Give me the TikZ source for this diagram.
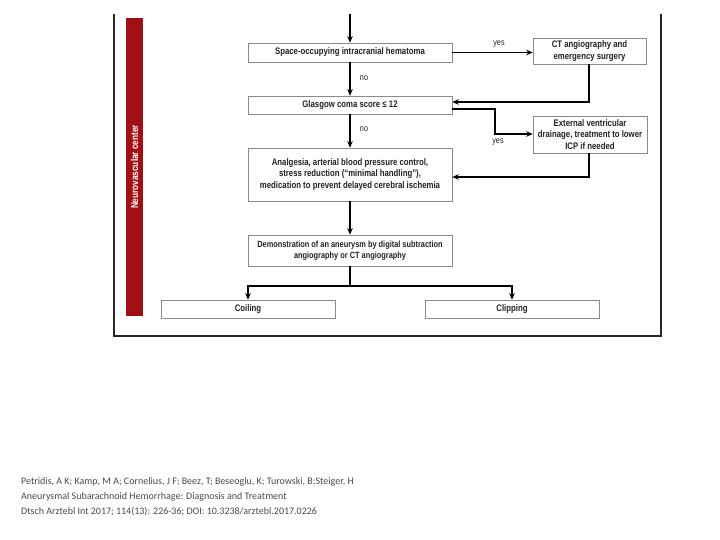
\documentclass[tikz,border=0pt]{standalone}
\usepackage{fontspec}
\setmainfont{Liberation Sans}
\newfontfamily\condfont[FakeStretch=0.82]{Liberation Sans}
\newfontfamily\citefont{Carlito}
\usetikzlibrary{arrows.meta}
\definecolor{barred}{HTML}{A00F14}
\definecolor{boxgray}{HTML}{8A8A8A}
\definecolor{txtdark}{HTML}{222222}
\definecolor{citegray}{HTML}{4A4A4A}
\begin{document}
\begin{tikzpicture}[x=1pt,y=-1pt,
  flowbox/.style={draw=boxgray,line width=0.6pt,fill=white,inner sep=1pt,
    font=\condfont\bfseries\fontsize{9.5}{11.5}\selectfont,text=txtdark,align=center},
  flowline/.style={line width=1.8pt,black,-{Stealth[length=6.5pt,width=5.5pt]}},
  plainline/.style={line width=1.8pt,black},
  lbl/.style={font=\condfont\fontsize{8.8}{10}\selectfont,text=txtdark,inner sep=0pt},
  cite/.style={font=\citefont\fontsize{10}{12}\selectfont,text=citegray,anchor=west,inner sep=0pt}]
\useasboundingbox (0,0) rectangle (720,540);
\fill[white] (0,0) rectangle (720,540);
% frame
\draw[line width=1.4pt,black!85] (114,14) -- (114,336) -- (661,336) -- (661,14);
% red bar
\fill[barred] (126,18) rectangle (143,316);
\node[rotate=90,font=\condfont\bfseries\fontsize{10}{11}\selectfont,text=white,inner sep=0pt] (bartext) at (134.5,167) {Neurovascular center};
% boxes
\node[flowbox,minimum width=204pt,minimum height=19pt] (hema) at (350,52.5) {Space-occupying intracranial hematoma};
\node[flowbox,minimum width=204pt,minimum height=18pt] (gcs) at (350,105) {Glasgow coma score ≤ 12};
\node[flowbox,minimum width=204pt,minimum height=53pt] (anal) at (350,174.5) {Analgesia, arterial blood pressure control,\\stress reduction (“minimal handling”),\\medication to prevent delayed cerebral ischemia};
\node[flowbox,minimum width=204pt,minimum height=31pt,font=\condfont\bfseries\fontsize{9}{11.5}\selectfont] (demo) at (350,250.5) {Demonstration of an aneurysm by digital subtraction\\angiography or CT angiography};
\node[flowbox,minimum width=113pt,minimum height=26pt] (ct) at (589.5,51) {CT angiography and\\emergency surgery};
\node[flowbox,minimum width=114pt,minimum height=37pt] (evd) at (590,134.5) {External ventricular\\drainage, treatment to lower\\ICP if needed};
\node[flowbox,minimum width=174pt,minimum height=18pt] (coil) at (248,309) {Coiling};
\node[flowbox,minimum width=174pt,minimum height=18pt] (clip) at (512,309) {Clipping};
% coordinates
\coordinate (topin) at (350,14);
\coordinate (ctturn) at (589,102);
\coordinate (gcsout) at (452,109);
\coordinate (gcsturn1) at (495,109);
\coordinate (gcsturn2) at (495,134);
\coordinate (evdturn) at (589,177);
\coordinate (branch) at (350,286);
% connectors
\draw[flowline] (topin) -- (hema.north);
\draw[flowline] (hema.east) -- (ct.west |- hema.east);
\draw[flowline] (hema.south) -- (gcs.north);
\draw[flowline] (ct.south -| ctturn) -- (ctturn) -- (gcs.east |- ctturn);
\draw[flowline] (gcsout) -- (gcsturn1) -- (gcsturn2) -- (evd.west |- gcsturn2);
\draw[flowline] (gcs.south) -- (anal.north);
\draw[flowline] (evd.south -| evdturn) -- (evdturn) -- (anal.east |- evdturn);
\draw[flowline] (anal.south) -- (demo.north);
\draw[plainline] (demo.south) -- (branch);
\draw[flowline] (branch) -- (coil.north |- branch) -- (coil.north);
\draw[flowline] (branch) -- (clip.north |- branch) -- (clip.north);
% labels
\node[lbl] (yes1) at (499,44) {yes};
\node[lbl] (yes2) at (498,142) {yes};
\node[lbl] (no1) at (364,78) {no};
\node[lbl] (no2) at (364,129) {no};
% citation
\node[cite] (c1) at (21,482) {Petridis, A K; Kamp, M A; Cornelius, J F; Beez, T; Beseoglu, K; Turowski, B;Steiger, H};
\node[cite] (c2) at (21,497) {Aneurysmal Subarachnoid Hemorrhage: Diagnosis and Treatment};
\node[cite] (c3) at (21,512) {Dtsch Arztebl Int 2017; 114(13): 226-36; DOI: 10.3238/arztebl.2017.0226};
\end{tikzpicture}
\end{document}
